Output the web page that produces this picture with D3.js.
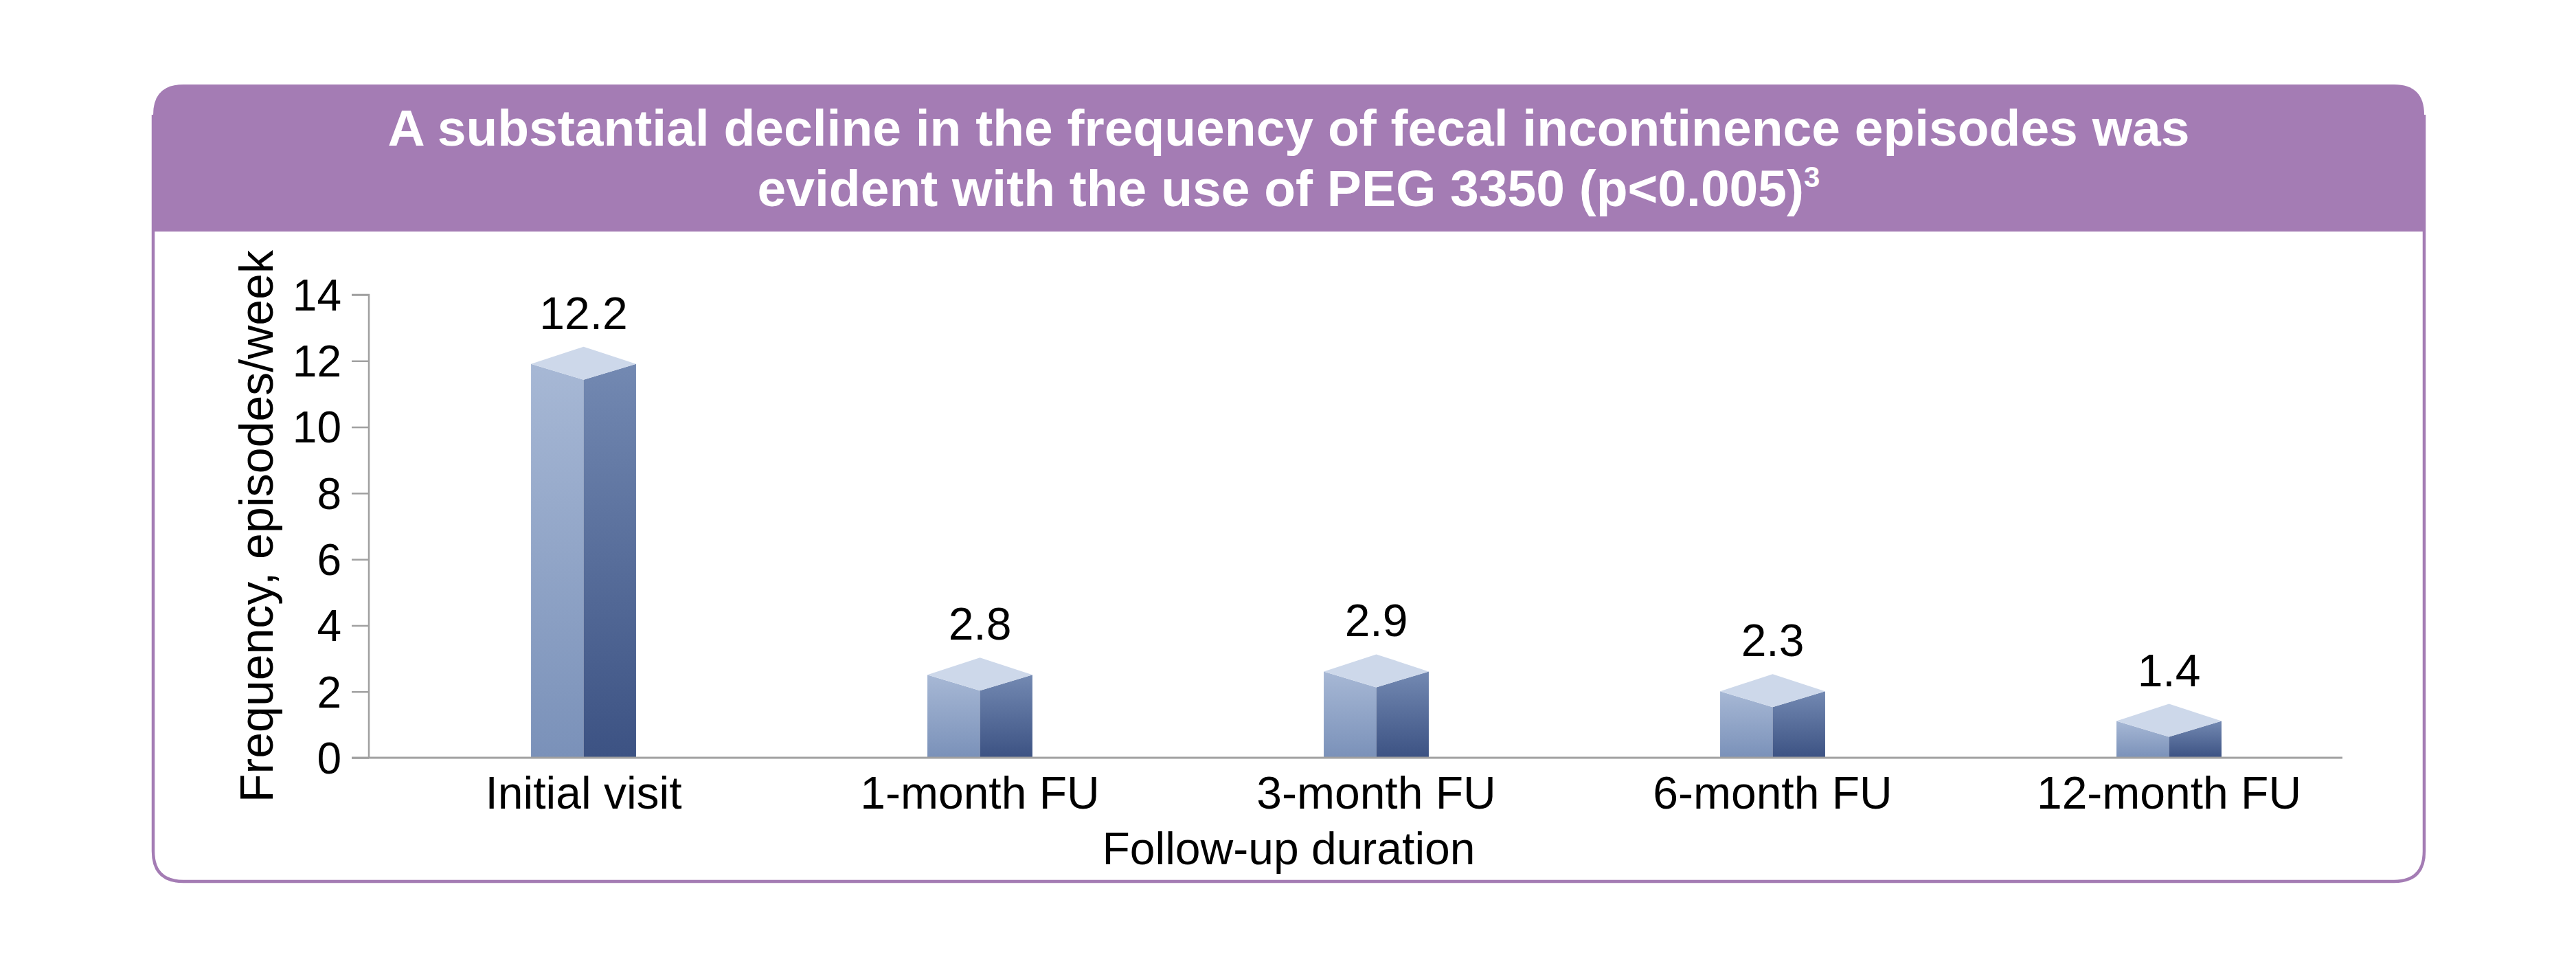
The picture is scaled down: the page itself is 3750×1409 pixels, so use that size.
<!DOCTYPE html>
<html>
<head>
<meta charset="utf-8">
<script src="https://cdn.jsdelivr.net/npm/d3@7/dist/d3.min.js"></script>
<style>
  html, body { margin: 0; padding: 0; background: #ffffff; }
  svg { display: block; }
  text { font-family: "Liberation Sans", Arial, Helvetica, sans-serif; }
</style>
</head>
<body>
<svg id="chart" width="3750" height="1409"></svg>
<script>
// ---- data ----
const categories = ["Initial visit", "1-month FU", "3-month FU", "6-month FU", "12-month FU"];
const values = [12.2, 2.8, 2.9, 2.3, 1.4];
const valueLabels = ["12.2", "2.8", "2.9", "2.3", "1.4"];
const yTicks = [0, 2, 4, 6, 8, 10, 12, 14];
const titleLine1 = "A substantial decline in the frequency of fecal incontinence episodes was";
const titleLine2 = "evident with the use of PEG 3350 (p<0.005)";
const titleSup = "3";
const yTitle = "Frequency, episodes/week";
const xTitle = "Follow-up duration";

// ---- layout ----
const W = 3750, H = 1409;
const box = { left: 223, right: 3529, top: 123, headerBottom: 337, bottom: 1283, r: 44 };
const purple = "#a47cb4";
const svg = d3.select("#chart");

const defs = svg.append("defs");
const gLeft = defs.append("linearGradient").attr("id", "gLeft").attr("x1", 0).attr("y1", 0).attr("x2", 0).attr("y2", 1);
gLeft.append("stop").attr("offset", "0%").attr("stop-color", "#a7b8d5");
gLeft.append("stop").attr("offset", "100%").attr("stop-color", "#7a91b9");
const gRight = defs.append("linearGradient").attr("id", "gRight").attr("x1", 0).attr("y1", 0).attr("x2", 0).attr("y2", 1);
gRight.append("stop").attr("offset", "0%").attr("stop-color", "#7389b2");
gRight.append("stop").attr("offset", "100%").attr("stop-color", "#3c5283");

// box outline
const L = box.left, R = box.right, T = box.top, B = box.bottom, r = box.r;
const headerPath = `M${L},${box.headerBottom} L${L},${T + r} Q${L},${T} ${L + r},${T} L${R - r},${T} Q${R},${T} ${R},${T + r} L${R},${box.headerBottom} Z`;
svg.append("path").attr("d", headerPath).attr("fill", purple);
const outline = `M${L},${T + r} L${L},${B - r} Q${L},${B} ${L + r},${B} L${R - r},${B} Q${R},${B} ${R},${B - r} L${R},${T + r}`;
svg.append("path").attr("d", outline).attr("fill", "none").attr("stroke", purple).attr("stroke-width", 4.5);

// title
const cx = (L + R) / 2;
svg.append("text").attr("x", cx).attr("y", 212).attr("text-anchor", "middle")
  .attr("font-size", 75).attr("font-weight", "bold").attr("fill", "#ffffff").text(titleLine1);
const t2 = svg.append("text").attr("x", cx).attr("y", 300).attr("text-anchor", "middle")
  .attr("font-size", 75).attr("font-weight", "bold").attr("fill", "#ffffff");
t2.append("tspan").text(titleLine2);
t2.append("tspan").attr("font-size", 42).attr("dy", -28).text(titleSup);

// scales
const y = d3.scaleLinear().domain([0, 14]).range([1103, 429]);
const x = d3.scaleBand().domain(categories).range([561, 3446]).paddingInner(0.735).paddingOuter(0.3675);
const axisX0 = 537, axisX1 = 3410;

// y axis
const yAxis = d3.axisLeft(y).tickValues(yTicks).tickSize(25).tickPadding(15).tickFormat(d3.format("d"));
const gy = svg.append("g").attr("transform", `translate(${axisX0},0)`).call(yAxis);
gy.select(".domain").attr("stroke", "#a0a0a0").attr("stroke-width", 2.5).attr("d", `M-25,${y(14)}H0V${y(0)}`);
gy.selectAll(".tick line").attr("stroke", "#a0a0a0").attr("stroke-width", 2.5);
gy.selectAll(".tick text").attr("font-size", 64).attr("fill", "#000").attr("font-family", "Liberation Sans, Arial, sans-serif").attr("dy", "0.35em");

// y title
svg.append("text").attr("transform", `translate(397,766) rotate(-90)`).attr("text-anchor", "middle")
  .attr("font-size", 68).attr("fill", "#000").text(yTitle);

// bars (3D prism)
const depthUp = 25, depthDown = 23, topOffset = 14;
const bars = svg.append("g").selectAll("g").data(values).join("g");
bars.each(function (v, i) {
  const g = d3.select(this);
  const x0 = x(categories[i]);
  const bw = x.bandwidth();
  const xm = x0 + bw / 2;
  const x1 = x0 + bw;
  const yc = y(v) + topOffset;   // side corners of top face
  const yb = y(0);
  const yf = yc + depthDown;     // front vertex
  const ya = yc - depthUp;       // back apex
  g.append("path").attr("d", `M${x0},${yc} L${xm},${yf} L${xm},${yb} L${x0},${yb} Z`).attr("fill", "url(#gLeft)");
  g.append("path").attr("d", `M${xm},${yf} L${x1},${yc} L${x1},${yb} L${xm},${yb} Z`).attr("fill", "url(#gRight)");
  g.append("path").attr("d", `M${x0},${yc} L${xm},${ya} L${x1},${yc} L${xm},${yf} Z`).attr("fill", "#cdd8ea");
  g.append("text").attr("x", xm).attr("y", ya - 26).attr("text-anchor", "middle")
    .attr("font-size", 66).attr("fill", "#000").text(valueLabels[i]);
});

// x axis line
svg.append("line").attr("x1", axisX0 - 25).attr("x2", axisX1).attr("y1", y(0)).attr("y2", y(0))
  .attr("stroke", "#a0a0a0").attr("stroke-width", 3);

// x labels
const xAxis = d3.axisBottom(x).tickSize(0).tickPadding(0);
const gx = svg.append("g").attr("transform", `translate(0,1177)`).call(xAxis);
gx.select(".domain").remove();
gx.selectAll(".tick text").attr("font-size", 66).attr("fill", "#000").attr("dy", 0)
  .attr("font-family", "Liberation Sans, Arial, sans-serif");

// x title
svg.append("text").attr("x", cx).attr("y", 1258).attr("text-anchor", "middle")
  .attr("font-size", 66).attr("fill", "#000").text(xTitle);
</script>
</body>
</html>
